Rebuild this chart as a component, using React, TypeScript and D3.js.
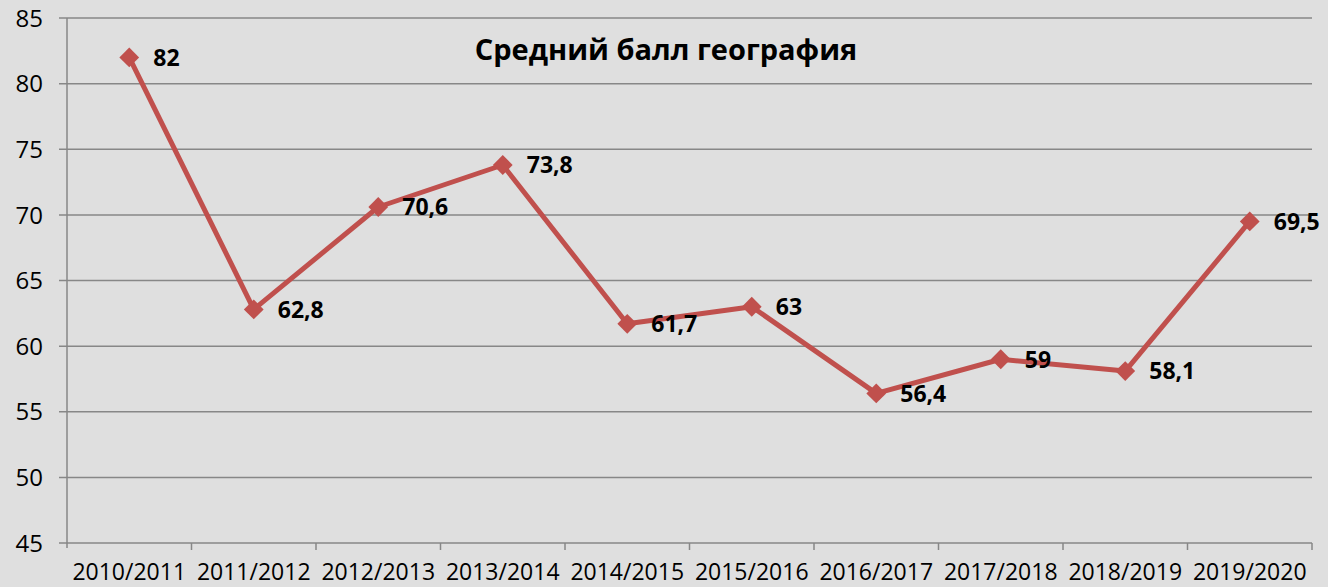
import React from "react";
import * as d3 from "d3";

const categories = ["2010/2011","2011/2012","2012/2013","2013/2014","2014/2015","2015/2016","2016/2017","2017/2018","2018/2019","2019/2020"];
const values = [82, 62.8, 70.6, 73.8, 61.7, 63, 56.4, 59, 58.1, 69.5];
const labels = ["82","62,8","70,6","73,8","61,7","63","56,4","59","58,1","69,5"];
const yTicks = [45, 50, 55, 60, 65, 70, 75, 80, 85];
const title = "Средний балл география";

const W = 1328, H = 587;
const left = 67, right = 1312, top = 18, bottom = 543;
const font = "'Open Sans', sans-serif";

export default function App() {
  const x = d3.scaleBand<string>().domain(categories).range([left, right]);
  const y = d3.scaleLinear().domain([45, 85]).range([bottom, top]);
  const line = d3.line<number>()
    .x((_, i) => (x(categories[i]) as number) + x.bandwidth() / 2)
    .y((d) => y(d));
  const grid = "#878787";
  const red = "#c0504d";
  return (
    <svg width={W} height={H} style={{ position: "absolute", left: 0, top: 0, display: "block" }}>
      <rect x={0} y={0} width={W} height={H} fill="#dfdfdf" />
      {yTicks.map((t) => (
        <g key={t}>
          <line x1={left - 8} x2={right} y1={y(t)} y2={y(t)} stroke={grid} strokeWidth={1.5} />
          <text x={43} y={y(t)} dy="0.36em" textAnchor="end" fontFamily={font} fontSize={24} fill="#000">{t}</text>
        </g>
      ))}
      <line x1={left} x2={left} y1={top} y2={bottom + 5} stroke={grid} strokeWidth={1.5} />
      {categories.map((c) => (
        <line key={c} x1={(x(c) as number) + x.bandwidth()} x2={(x(c) as number) + x.bandwidth()} y1={bottom} y2={bottom + 7} stroke={grid} strokeWidth={1.5} />
      ))}
      {categories.map((c) => (
        <text key={c} x={(x(c) as number) + x.bandwidth() / 2} y={580} textAnchor="middle" fontFamily={font} fontSize={23} fill="#000">{c}</text>
      ))}
      <path d={line(values) || ""} fill="none" stroke={red} strokeWidth={5} strokeLinejoin="round" />
      {values.map((v, i) => {
        const cx = (x(categories[i]) as number) + x.bandwidth() / 2;
        const cy = y(v);
        return (
          <g key={i}>
            <rect x={cx - 7} y={cy - 7} width={14} height={14} fill={red} transform={`rotate(45 ${cx} ${cy})`} />
            <text x={cx + 24} y={cy} dy="0.36em" fontFamily={font} fontWeight="bold" fontSize={23} fill="#000">{labels[i]}</text>
          </g>
        );
      })}
      <text x={666} y={50} dy="0.36em" textAnchor="middle" fontFamily={font} fontWeight="bold" fontSize={29} fill="#000">{title}</text>
    </svg>
  );
}
